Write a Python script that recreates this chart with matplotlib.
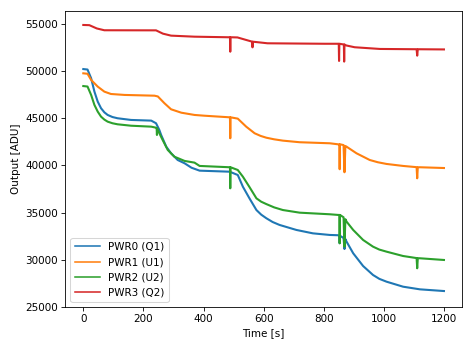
import matplotlib
matplotlib.use('Agg')
import matplotlib.pyplot as plt

# readings taken off the reference curves (time in s, output in ADU)
t_pwr0 = [0, 14, 26, 37, 48, 59, 70, 81, 97, 114, 159, 226, 242, 253, 259, 276, 292, 314, 337,
          360, 387, 487, 514, 531, 553, 576, 592, 609, 630, 653, 709, 764, 820, 848, 852, 853,
          854, 866, 869, 872, 876, 898, 931, 964, 985, 1009, 1064, 1120, 1200]
v_pwr0 = [50200, 50150, 49230, 47810, 46750, 46050, 45620, 45340, 45120, 44990, 44810, 44740,
          44460, 43750, 43220, 41980, 41280, 40570, 40220, 39750, 39440, 39330, 38980, 37740,
          36500, 35270, 34780, 34400, 34000, 33690, 33160, 32800, 32630, 32600, 32550, 31750,
          32550, 32300, 31140, 32200, 31920, 30690, 29340, 28390, 27980, 27680, 27150, 26870,
          26690]

t_pwr1 = [0, 14, 26, 48, 70, 92, 137, 237, 248, 270, 292, 326, 370, 403, 487, 488, 489, 490,
          514, 542, 570, 590, 609, 635, 664, 720, 820, 848, 852, 853, 854, 866, 869, 872, 876,
          909, 953, 980, 1009, 1064, 1109, 1111, 1113, 1120, 1200]
v_pwr1 = [49750, 49700, 49050, 48340, 47810, 47560, 47460, 47380, 47300, 46580, 45940, 45580,
          45340, 45260, 45090, 45090, 42870, 45090, 44950, 44100, 43400, 43120, 42930, 42760,
          42620, 42450, 42340, 42230, 42230, 39590, 42230, 42150, 39270, 42050, 41980, 41280,
          40570, 40330, 40150, 39940, 39810, 38630, 39800, 39800, 39720]

t_pwr2 = [0, 14, 26, 37, 48, 59, 70, 81, 97, 114, 159, 226, 242, 244, 245, 246, 253, 264, 281,
          303, 337, 370, 387, 487, 488, 489, 490, 514, 531, 553, 576, 592, 609, 635, 664, 720,
          820, 848, 852, 853, 854, 866, 869, 872, 876, 898, 931, 964, 985, 1009, 1064, 1109,
          1111, 1113, 1120, 1200]
v_pwr2 = [48400, 48350, 47460, 46400, 45690, 45160, 44850, 44630, 44460, 44350, 44200, 44100,
          43990, 43950, 43220, 43900, 43400, 42690, 41630, 40920, 40470, 40290, 39940, 39800,
          39800, 37570, 39800, 39510, 38800, 37700, 36510, 36150, 35900, 35550, 35270, 34990,
          34820, 34750, 34750, 31750, 34750, 34500, 31390, 34300, 34040, 33160, 32100, 31390,
          31080, 30860, 30400, 30180, 29100, 30170, 30160, 29980]

t_pwr3 = [0, 20, 45, 70, 242, 265, 292, 370, 480, 488, 489, 490, 513, 540, 562, 563, 564, 613,
          803, 850, 851, 852, 867, 868, 869, 875, 903, 987, 1109, 1111, 1113, 1200]
v_pwr3 = [54870, 54850, 54500, 54310, 54300, 53950, 53740, 53630, 53570, 53570, 52040, 53570,
          53550, 53300, 53100, 52500, 53100, 52930, 52880, 52880, 51060, 52880, 52800, 50990,
          52800, 52700, 52510, 52330, 52300, 51620, 52300, 52280]

labels = ['PWR0 (Q1)', 'PWR1 (U1)', 'PWR2 (U2)', 'PWR3 (Q2)']

fig = plt.figure(figsize=(473 / 75, 347 / 75), dpi=75)
ax = fig.add_axes([0.138, 0.1153, 0.8387, 0.853])

for t, v, lab in zip([t_pwr0, t_pwr1, t_pwr2, t_pwr3],
                     [v_pwr0, v_pwr1, v_pwr2, v_pwr3], labels):
    ax.plot(t, v, lw=2.0, solid_joinstyle='round', label=lab)

ax.set_xlim(-60, 1260)
ax.set_ylim(25000, 56350)
ax.set_xlabel('Time [s]')
ax.set_ylabel('Output [ADU]')

leg = ax.legend(loc='lower left', handlelength=2.4)
for h in leg.get_lines():
    h.set_linewidth(1.5)

fig.savefig('out.png', dpi=75)
